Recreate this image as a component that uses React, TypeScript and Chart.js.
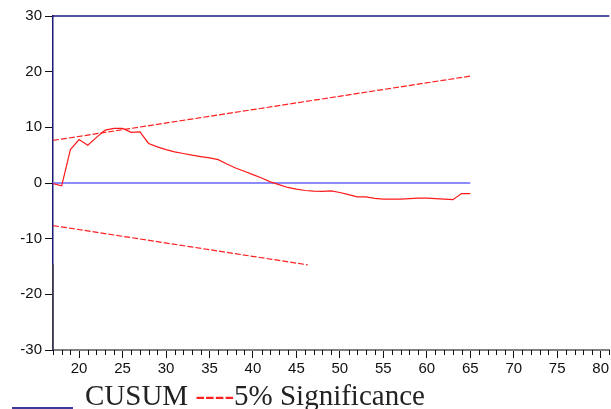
import React, { useEffect, useRef } from "react";
import { Chart, registerables } from "chart.js";

Chart.register(...registerables);

const periods: number[] = [
  17, 18, 19, 20, 21, 22, 23, 24, 25, 26, 27, 28, 29, 30, 31, 32, 33, 34, 35, 36, 37, 38, 39, 40, 41,
  42, 43, 44, 45, 46, 47, 48, 49, 50, 51, 52, 53, 54, 55, 56, 57, 58, 59, 60, 61, 62, 63, 64, 65,
];
const cusum: number[] = [
  -0.1, -0.5, 6.0, 7.8, 6.8, 8.2, 9.5, 9.8, 9.8, 9.1, 9.2, 7.1, 6.5, 6.0, 5.6, 5.3, 5.0, 4.75, 4.5,
  4.2, 3.4, 2.7, 2.1, 1.5, 0.9, 0.2, -0.3, -0.8, -1.1, -1.35, -1.45, -1.5, -1.4, -1.7, -2.1, -2.5,
  -2.5, -2.75, -2.9, -2.9, -2.9, -2.8, -2.7, -2.7, -2.8, -2.9, -3.0, -1.9, -1.9,
];
const upperX: number[] = [17, 65];
const upperY: number[] = [7.65, 19.2];
const lowerX: number[] = [17, 46.3];
const lowerY: number[] = [-7.65, -14.7];
const zeroX: number[] = [17, 65];
const zeroY: number[] = [0, 0];
const xMin = 17;
const xMax = 81;
const yMin = -30;
const yMax = 30;

const pts = (xs: number[], ys: number[]) => xs.map((x, i) => ({ x, y: ys[i] }));

export default function App() {
  const ref = useRef<HTMLCanvasElement | null>(null);

  useEffect(() => {
    if (!ref.current) return;
    const framePlugin = {
      id: "frame",
      afterDraw(chart: any) {
        const ctx = chart.ctx;
        const xs = chart.scales.x;
        const ys = chart.scales.y;
        const area = chart.chartArea;
        ctx.save();
        // minor ticks
        ctx.strokeStyle = "#111";
        ctx.lineWidth = 1;
        ctx.beginPath();
        for (let v = Math.ceil(xMin); v <= xMax; v++) {
          if (v % 5 === 0) continue;
          const px = Math.round(xs.getPixelForValue(v)) + 0.5;
          ctx.moveTo(px, area.bottom);
          ctx.lineTo(px, area.bottom + 5);
        }
        ctx.stroke();
        // top border
        ctx.strokeStyle = "#1a1a7a";
        ctx.lineWidth = 1.5;
        ctx.beginPath();
        ctx.moveTo(area.left, ys.getPixelForValue(yMax));
        ctx.lineTo(area.right, ys.getPixelForValue(yMax));
        ctx.stroke();
        // lower part of left axis
        ctx.strokeStyle = "#444";
        ctx.lineWidth = 1.5;
        ctx.beginPath();
        ctx.moveTo(area.left, ys.getPixelForValue(-14.6));
        ctx.lineTo(area.left, area.bottom);
        ctx.stroke();
        ctx.restore();
      },
    };

    const chart = new Chart(ref.current, {
      type: "line",
      data: {
        datasets: [
          {
            label: "CUSUM",
            data: pts(periods, cusum),
            borderColor: "#ff1a1a",
            borderWidth: 1.2,
            pointRadius: 0,
            tension: 0,
            order: 0,
          },
          {
            label: "Upper 5%",
            data: pts(upperX, upperY),
            borderColor: "#ff2020",
            borderWidth: 1.2,
            borderDash: [6, 2],
            pointRadius: 0,
            order: 2,
          },
          {
            label: "Lower 5%",
            data: pts(lowerX, lowerY),
            borderColor: "#ff2020",
            borderWidth: 1.2,
            borderDash: [6, 2],
            pointRadius: 0,
            order: 2,
          },
          {
            label: "Zero",
            data: pts(zeroX, zeroY),
            borderColor: "#8c8cff",
            borderWidth: 2,
            pointRadius: 0,
            order: 1,
          },
        ],
      },
      options: {
        animation: false,
        responsive: false,
        layout: { padding: { left: 0, right: 0, top: 16, bottom: 0 } },
        plugins: { legend: { display: false }, tooltip: { enabled: false } },
        scales: {
          x: {
            type: "linear",
            min: xMin,
            max: xMax,
            afterFit: (s: any) => {
              s.height = 59;
            },
            border: { display: true, color: "#808080", width: 2 },
            grid: {
              display: true,
              drawOnChartArea: false,
              drawTicks: true,
              tickLength: 8,
              color: "#111",
              lineWidth: 1,
            },
            ticks: {
              stepSize: 5,
              includeBounds: false,
              autoSkip: false,
              maxRotation: 0,
              padding: 2,
              color: "#111",
              font: { family: "'Liberation Sans', Arial", size: 15 },
              callback: (v: any) => String(v),
            },
          },
          y: {
            type: "linear",
            min: yMin,
            max: yMax,
            afterFit: (s: any) => {
              s.width = 53;
            },
            border: { display: true, color: "#1a1a7a", width: 1.5 },
            grid: {
              display: true,
              drawOnChartArea: false,
              drawTicks: true,
              tickLength: 8,
              color: "#111",
              lineWidth: 1,
            },
            ticks: {
              stepSize: 10,
              padding: 3,
              color: "#111",
              font: { family: "'Liberation Sans', Arial", size: 15 },
            },
          },
        },
      },
      plugins: [framePlugin],
    } as any);
    return () => chart.destroy();
  }, []);

  return (
    <div
      style={{
        position: "fixed",
        left: 0,
        top: 0,
        width: 611,
        height: 409,
        overflow: "hidden",
        background: "#fff",
      }}
    >
      <canvas ref={ref} width={611} height={409} style={{ position: "absolute", left: 0, top: 0 }} />
      <div
        style={{
          position: "absolute",
          left: 12,
          top: 407,
          width: 61,
          height: 2,
          background: "#3a3a9a",
        }}
      />
      <div
        style={{
          position: "absolute",
          left: 85,
          top: 381,
          fontFamily: "'Liberation Serif', 'Times New Roman', serif",
          fontSize: 29,
          lineHeight: "29px",
          color: "#222",
          whiteSpace: "pre",
        }}
      >
        CUSUM <span style={{ color: "#ff2020" }}>----</span>5% Significance
      </div>
    </div>
  );
}
